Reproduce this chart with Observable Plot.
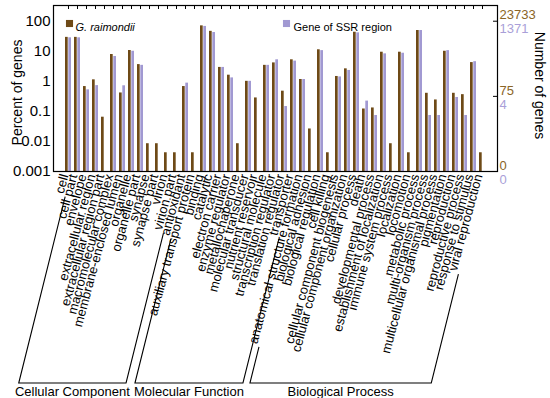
<!DOCTYPE html>
<html><head><meta charset="utf-8">
<script src="https://cdn.jsdelivr.net/npm/d3@7"></script>
<script src="https://cdn.jsdelivr.net/npm/@observablehq/plot@0.6"></script>
<style>body{margin:0;background:#fff} #chart{width:550px;height:398px;overflow:hidden}</style>
</head><body><div id="chart"></div>
<script>
const ccTerms = ["cell","cell part","envelope","extracellular region","extracellular region part","macromolecular complex","membrane-enclosed lumen","organelle","organelle part","synapse","synapse part","virion","virion part"];
const mfTerms = ["antioxidant","auxiliary transport protein","binding","catalytic","electron carrier","enzyme regulator","metallochaperone","molecular transducer","nutrient reservoir","structural molecule","transcription regulator","translation regulator","transporter"];
const bpTerms = ["anatomical structure formation","biological adhesion","biological regulation","cell killing","cellular component biogenesis","cellular component organization","cellular process","death","developmental process","establishment of localization","immune system process","localization","locomotion","metabolic process","multi-organism process","multicellular organismal process","pigmentation","reproduction","reproductive process","response to stimulus","viral reproduction"];
const groupNames = ["Cellular Component","Molecular Function","Biological Process"];
const categories = [...ccTerms, ...mfTerms, ...bpTerms];

// percent of genes, G. raimondii
const raimondiiPct = [
  29, 29, 0.67, 1.12, 0.064, 7.8, 0.41, 10.6, 3.6, 0.0084, 0.0084, 0.0042, 0.0042,
  0.67, 0.0042, 70, 46, 2.9, 1.6, 0.0084, 1.0, 0.28, 3.4, 4.1, 0.47, 5.2,
  1.15, 0.026, 11.2, 0.0042, 1.45, 2.6, 43, 0.12, 0.13, 9.3, 0.0084, 9.3, 0.0042, 49, 0.40, 0.24, 10, 0.40, 0.36, 4.2, 0.0042
];
// percent of genes, gene of SSR region
const ssrPct = [
  28, 28, 0.52, 0.72, null, 6.7, 0.71, 10, 3.4, null, null, null, null,
  0.87, null, 67, 42, 2.9, 1.3, null, 1.0, null, 3.4, 5.2, 0.145, 4.7,
  1.15, null, 10.5, null, 1.4, 2.3, 41, 0.22, 0.073, 8.2, null, 8.6, null, 49, 0.073, 0.073, 10.5, 0.29, 0.073, 4.5, null
];
const seriesNames = ["G. raimondii", "Gene of SSR region"];
const yTicks = [100, 10, 1, 0.1, 0.01, 0.001];
const yTickLabels = ["100", "10", "1", "0.1", "0.01", "0.001"];
const rightTicks = [100, 0.316, 0.001];
const rightLabelsG = ["23733", "75", "0"];
const rightLabelsS = ["1371", "4", "0"];
const yMin = 0.001, yMax = 333;

const brown = "#6e4a17", lav = "#a199d2", brownText = "#8a6526", lavText = "#a99fd8";
const fontFam = "'Liberation Sans', Arial, Helvetica, sans-serif";
const labelSize = 13, labelAngle = 75, bracketAngle = 76, labelDy = 4;

const gRows = categories.map((t, i) => ({term: t, pct: raimondiiPct[i]})).filter(d => d.pct != null);
const sRows = categories.map((t, i) => ({term: t, pct: ssrPct[i]})).filter(d => d.pct != null);
const half = 3.3;

const plot = Plot.plot({
  width: 550, height: 398,
  marginTop: 5, marginBottom: 227, marginLeft: 53, marginRight: 53,
  style: {fontFamily: fontFam, background: "#fff", color: "#000"},
  x: {type: "band", domain: categories, paddingInner: 0.3, paddingOuter: 0.1, axis: null},
  y: {type: "log", domain: [yMin, yMax], axis: null},
  marks: [
    Plot.barY(gRows, {x: "term", y1: () => yMin, y2: "pct", fill: brown, insetRight: half}),
    Plot.barY(sRows, {x: "term", y1: () => yMin, y2: "pct", fill: lav, insetLeft: half}),
    Plot.frame({stroke: "#000", strokeWidth: 1.2}),
    Plot.ruleX(categories, {x: d => d, y1: () => yMax, y2: () => yMax, insetBottom: -4, stroke: "#000"}),
    Plot.ruleY(rightTicks.slice(0, 2), {y: d => d, insetLeft: 440, stroke: "#000"}),
    Plot.text(yTicks, {y: d => d, frameAnchor: "left", text: (d, i) => yTickLabels[i], textAnchor: "end", dx: -3, fontSize: 15, fill: "#000"}),
    Plot.text(rightTicks, {y: d => d, frameAnchor: "right", text: (d, i) => rightLabelsG[i], textAnchor: "start", dx: 2, dy: -6, fontSize: 13, fill: brownText}),
    Plot.text(rightTicks, {y: d => d, frameAnchor: "right", text: (d, i) => rightLabelsS[i], textAnchor: "start", dx: 2, dy: 8, fontSize: 13, fill: lavText}),
    Plot.text(categories, {x: d => d, frameAnchor: "bottom", text: d => d, rotate: -labelAngle, textAnchor: "end", dy: labelDy, fontSize: labelSize, fill: "#000"}),
    Plot.text(["Percent of genes"], {frameAnchor: "left", text: d => d, rotate: -90, textAnchor: "middle", dx: -36, dy: 4, fontSize: 14, fill: "#000"}),
    Plot.text(["Number of genes"], {frameAnchor: "right", text: d => d, rotate: 90, textAnchor: "middle", dx: 42, dy: -3, fontSize: 14, fill: "#000"}),
    Plot.dot([seriesNames[0]], {frameAnchor: "top-left", dx: 16, dy: 18, symbol: "square", r: 4, fill: brown}),
    Plot.text([seriesNames[0]], {frameAnchor: "top-left", text: d => d, dx: 22, dy: 18, textAnchor: "start", fontSize: 11, fontStyle: "italic", fill: "#000"}),
    Plot.dot([seriesNames[1]], {frameAnchor: "top-left", dx: 233, dy: 18, symbol: "square", r: 4, fill: lav}),
    Plot.text([seriesNames[1]], {frameAnchor: "top-left", text: d => d, dx: 240, dy: 18, textAnchor: "start", fontSize: 11, fill: "#000"})
  ]
});
document.getElementById("chart").appendChild(plot);

// group brackets derived from the x scale and label lengths
const xs = plot.scale("x");
const ys = plot.scale("y");
const bw = xs.bandwidth;
const baseY = ys.apply(yMin) + labelDy;
const la = labelAngle * Math.PI / 180, ba = bracketAngle * Math.PI / 180;
const ctx = document.createElement("canvas").getContext("2d");
ctx.font = `${labelSize}px ${fontFam}`;
const bracketY = 383, gap = 3, shift = 3;
function bottomOf(term) {
  const ax = xs.apply(term) + bw / 2;
  const L = ctx.measureText(term).width + gap;
  const sx = ax - L * Math.cos(la) + shift, sy = baseY + L * Math.sin(la);
  const bx = sx - (bracketY - sy) / Math.tan(ba);
  return {sx, sy, bx};
}
const groups = [[ccTerms, groupNames[0]], [mfTerms, groupNames[1]], [bpTerms, groupNames[2]]];
const g = d3.select(plot).append("g").attr("fill", "none").attr("stroke", "#000").attr("stroke-width", 1.1);
const gt = d3.select(plot).append("g").attr("font-family", fontFam).attr("font-size", 13).attr("text-anchor", "middle");
for (const [terms, name] of groups) {
  const a = bottomOf(terms[0]), b = bottomOf(terms[terms.length - 1]);
  g.append("path").attr("d", `M${a.sx},${a.sy}L${a.bx},${bracketY}L${b.bx},${bracketY}L${b.sx},${b.sy}`);
  gt.append("text").attr("x", (a.bx + b.bx) / 2).attr("y", bracketY + 12.5).text(name);
}
</script>
</body></html>
